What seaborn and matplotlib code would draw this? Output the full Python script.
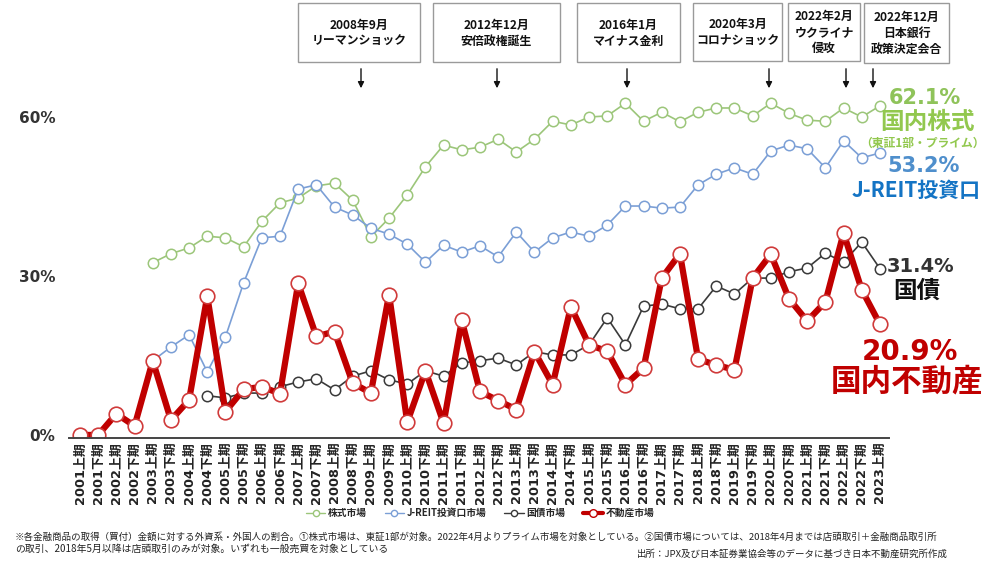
import numpy as np
import pandas as pd
import matplotlib
matplotlib.use("Agg")
import matplotlib.pyplot as plt
from matplotlib.lines import Line2D
from matplotlib.patches import Rectangle
import seaborn as sns

# Half-year periods (上期 / 下期)
periods = [
    "2001上期", "2001下期", "2002上期", "2002下期", "2003上期", "2003下期",
    "2004上期", "2004下期", "2005上期", "2005下期", "2006上期", "2006下期",
    "2007上期", "2007下期", "2008上期", "2008下期", "2009上期", "2009下期",
    "2010上期", "2010下期", "2011上期", "2011下期", "2012上期", "2012下期",
    "2013上期", "2013下期", "2014上期", "2014下期", "2015上期", "2015下期",
    "2016上期", "2016下期", "2017上期", "2017下期", "2018上期", "2018下期",
    "2019上期", "2019下期", "2020上期", "2020下期", "2021上期", "2021下期",
    "2022上期", "2022下期", "2023上期",
]

# Share of foreign buyers (%) by market
real_estate = [0.0, 0.0, 4.0, 1.7, 14.0, 2.8, 6.6, 26.2, 4.4, 8.6,
               9.1, 7.8, 28.6, 18.6, 19.5, 9.8, 7.9, 26.5, 2.4, 12.1,
               2.2, 21.6, 8.2, 6.5, 4.8, 15.7, 9.5, 24.2, 17.0, 15.8,
               9.5, 12.6, 29.6, 34.2, 14.3, 13.2, 12.3, 29.6, 34.1, 25.7,
               21.5, 25.1, 38.1, 27.4, 20.9]

stocks_first = "2003上期"
stocks = [32.5, 34.2, 35.3, 37.5, 37.2, 35.5, 40.3, 43.8, 44.7, 47.0,
          47.5, 44.3, 37.4, 40.9, 45.3, 50.6, 54.7, 53.8, 54.3, 55.8,
          53.4, 55.8, 59.2, 58.5, 60.0, 60.2, 62.6, 59.2, 60.9, 59.1,
          60.9, 61.7, 61.7, 60.2, 62.6, 60.7, 59.4, 59.2, 61.7, 60.0,
          62.1]

reit_first = "2003上期"
reit = [14.0, 16.6, 18.9, 11.9, 18.5, 28.7, 37.2, 37.5, 46.4, 47.2,
        43.0, 41.5, 39.0, 37.9, 36.0, 32.6, 35.8, 34.5, 35.7, 33.6,
        38.3, 34.5, 37.2, 38.3, 37.5, 39.6, 43.2, 43.2, 42.8, 43.0,
        47.2, 49.2, 50.4, 49.2, 53.6, 54.7, 54.0, 50.4, 55.5, 52.3,
        53.2]

bonds_first = "2004下期"
bonds = [7.4, 7.0, 7.9, 7.9, 9.1, 10.0, 10.6, 8.5, 11.1, 12.1,
         10.4, 9.6, 12.1, 11.1, 13.6, 14.0, 14.5, 13.2, 15.7, 15.1,
         15.1, 17.0, 22.1, 17.0, 24.3, 24.7, 23.8, 23.8, 28.1, 26.6,
         29.6, 29.6, 30.8, 31.5, 34.3, 32.6, 36.4, 31.4]

events = [
    "2008年9月\nリーマンショック",
    "2012年12月\n安倍政権誕生",
    "2016年1月\nマイナス金利",
    "2020年3月\nコロナショック",
    "2022年2月\nウクライナ\n侵攻",
    "2022年12月\n日本銀行\n政策決定会合",
]

GREEN = "#9cc67a"
BLUE = "#7b9fd6"
BLACK = "#3a3a3a"
RED = "#c00000"

sns.set_theme(style="white")
plt.rcParams["font.family"] = ["Noto Sans CJK JP", "DejaVu Sans"]
plt.rcParams["font.weight"] = "bold"

W, H = 991, 564
fig = plt.figure(figsize=(W / 100, H / 100), dpi=100)
fig.patch.set_facecolor("white")


def fx(px):
    return px / W


def fy(py):
    return 1 - py / H


ax = fig.add_axes([fx(69.1), fy(437.6), fx(889) - fx(69.1), fy(85.2) - fy(437.6)])
ax.set_facecolor("none")


def frame(values, first):
    start = periods.index(first)
    return pd.DataFrame({"pos": np.arange(start, start + len(values)),
                         "share": values})


thin = dict(lw=1.2, marker="o", markersize=7.5, markerfacecolor="white",
            markeredgewidth=1.1, errorbar=None, legend=False)
sns.lineplot(data=frame(stocks, stocks_first), x="pos", y="share", ax=ax,
             color=GREEN, markeredgecolor=GREEN, **thin)
sns.lineplot(data=frame(reit, reit_first), x="pos", y="share", ax=ax,
             color=BLUE, markeredgecolor=BLUE, **thin)
sns.lineplot(data=frame(bonds, bonds_first), x="pos", y="share", ax=ax,
             color=BLACK, markeredgecolor=BLACK, **thin)
sns.lineplot(data=frame(real_estate, periods[0]), x="pos", y="share", ax=ax,
             color=RED, lw=4.5, marker="o", markersize=10.5,
             markerfacecolor="white", markeredgecolor="#d03a3a",
             markeredgewidth=1.2, errorbar=None, legend=False)

ax.set_xlim(-0.6, 44.5)
ax.set_ylim(-0.5, 66)
ax.set_xlabel("")
ax.set_ylabel("")
ax.set_xticks(range(len(periods)))
ax.set_xticklabels(periods, rotation=90, fontsize=9.3, fontweight="bold",
                   color="#222222", family=["DejaVu Sans", "Noto Sans CJK JP"])
ax.set_yticks([0, 30, 60])
ax.set_yticklabels(["0%", "30%", "60%"], fontsize=11, fontweight="bold",
                   color="#333333", family="DejaVu Sans")
ax.tick_params(axis="x", length=0, pad=3)
ax.tick_params(axis="y", length=0, pad=10)
ax.grid(False)
for side in ["top", "right", "left"]:
    ax.spines[side].set_visible(False)
ax.spines["bottom"].set_color("#444444")
ax.spines["bottom"].set_linewidth(1.4)

# Event boxes with arrows
boxes = [(298, 3, 420, 62), (433, 3, 560, 62), (577, 3, 680, 62),
         (693, 3, 782, 61), (788, 3, 860, 61), (864, 3, 949, 63)]
arrow_x = [361, 497, 627, 769, 846, 873]
for text, (x0, y0, x1, y1), axp in zip(events, boxes, arrow_x):
    fig.add_artist(Rectangle((fx(x0), fy(y1)), fx(x1) - fx(x0), fy(y0) - fy(y1),
                             transform=fig.transFigure, facecolor="white",
                             edgecolor="#9a9a9a", lw=1.0))
    fig.text(fx((x0 + x1) / 2), fy((y0 + y1) / 2 + 0.5), text, ha="center",
             va="center", fontsize=8.6, fontweight="bold", color="#111111",
             linespacing=1.3)
    ax.annotate("", xy=(fx(axp), fy(91)), xytext=(fx(axp), fy(66)),
                xycoords="figure fraction", textcoords="figure fraction",
                arrowprops=dict(arrowstyle="-|>", color="#111111", lw=1.0,
                                mutation_scale=9))


# End-of-series labels
def label(px, py, s, size, color, family=None):
    kw = dict(ha="center", va="center", fontsize=size, fontweight="bold",
              color=color)
    if family:
        kw["family"] = family
    fig.text(fx(px), fy(py), s, **kw)


label(925, 98, f"{stocks[-1]:.1f}%", 15, "#8fc35a", "DejaVu Sans")
label(927, 122, "国内株式", 17, "#92c84e")
label(922, 143, "（東証1部・プライム）", 8.5, "#92c84e")
label(924, 166, f"{reit[-1]:.1f}%", 15, "#4f8fcc", "DejaVu Sans")
label(916, 190, "J-REIT投資口", 15, "#1474c4")
label(921, 266, f"{bonds[-1]:.1f}%", 14, "#333333", "DejaVu Sans")
label(917, 291, "国債", 17, "#111111")
label(910, 352, f"{real_estate[-1]:.1f}%", 20, RED, "DejaVu Sans")
label(907, 381, "国内不動産", 22, RED)

# Legend
handles = [
    Line2D([], [], color=GREEN, lw=1.0, marker="o", markersize=4.5,
           markerfacecolor="white", markeredgecolor=GREEN),
    Line2D([], [], color=BLUE, lw=1.0, marker="o", markersize=4.5,
           markerfacecolor="white", markeredgecolor=BLUE),
    Line2D([], [], color=BLACK, lw=1.0, marker="o", markersize=4.5,
           markerfacecolor="white", markeredgecolor=BLACK),
    Line2D([], [], color=RED, lw=3.0, marker="o", markersize=5.5,
           markerfacecolor="white", markeredgecolor=RED),
]
fig.legend(handles, ["株式市場", "J-REIT投資口市場", "国債市場", "不動産市場"],
           loc="center", bbox_to_anchor=(fx(480), fy(513)), ncol=4,
           frameon=False, fontsize=7, handlelength=2.0, handletextpad=0.3,
           columnspacing=1.8)

# Notes
fig.text(fx(15), fy(537),
         "※各金融商品の取得（買付）金額に対する外資系・外国人の割合。①株式市場は、東証1部が対象。"
         "2022年4月よりプライム市場を対象としている。②国債市場については、2018年4月までは店頭取引＋金融商品取引所",
         ha="left", va="center", fontsize=6.8, fontweight="normal", color="#222222")
fig.text(fx(15), fy(549),
         "の取引、2018年5月以降は店頭取引のみが対象。いずれも一般売買を対象としている",
         ha="left", va="center", fontsize=7.1, fontweight="normal", color="#222222")
fig.text(fx(948), fy(554),
         "出所：JPX及び日本証券業協会等のデータに基づき日本不動産研究所作成",
         ha="right", va="center", fontsize=6.8, fontweight="normal", color="#222222")

fig.savefig("out.png", dpi=100)
